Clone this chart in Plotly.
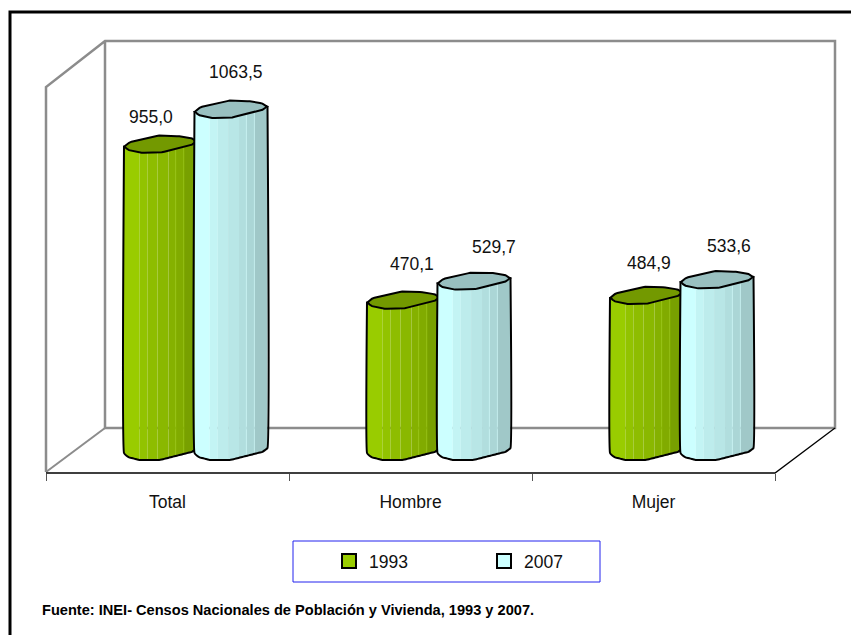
import numpy as np
import plotly.graph_objects as go

# ---- data ----
categories = ["Total", "Hombre", "Mujer"]
values_1993 = [955.0, 470.1, 484.9]
values_2007 = [1063.5, 529.7, 533.6]
series_names = ["1993", "2007"]
source_text = "Fuente: INEI- Censos Nacionales de Población y Vivienda, 1993 y 2007."

# ---- page geometry (pixel values are page pixels; the page body has an 8 px margin) ----
PAGE_W, PAGE_H = 859, 635
OFF = 8
W, H = PAGE_W - OFF, PAGE_H - OFF
FONT = "Liberation Sans, Arial, sans-serif"
X0_PX, CAT_PX = 46.0, 243.0      # first category edge, category width
Y0_PX, UNIT_PX = 460.0, 386.0 / 1200.0  # value 0 level, pixels per unit
AXIS_PX = 473.0


def xd(px):
    return (px - X0_PX) / CAT_PX


def yd(px):
    return (Y0_PX - px) / UNIT_PX


def xp(px):
    return (px - OFF) / W


def yp(px):
    return 1 - (px - OFF) / H


# wavy cylinder outline (fraction of bar width, pixels above the level)
prof_u = np.array([0.0, 0.05, 0.21, 0.49, 0.94, 1.0])
prof_low = np.array([7.0, 3.0, 0.0, 0.0, 8.3, 12.0])
back_u = np.array([0.0, 0.08, 0.30, 0.49, 0.81, 0.95, 1.0])
back_up = np.array([6.0, 10.7, 14.5, 17.4, 16.4, 14.0, 11.0])

band_edges = [0.0, 0.21, 0.32, 0.46, 0.61, 0.71, 0.82, 1.0]
band_factor = [1.0, 0.955, 0.925, 0.9, 0.87, 0.84, 0.785]
BAR_W = 73.0
LEFT_OFF = {0: -43.5, 1: 27.0}   # bar left edge relative to category centre
colors = {0: (153, 204, 0), 1: (204, 255, 255)}
cap_col = {0: "#739900", 1: "#99C0C0"}


def shade(c, f):
    return "rgb(%d,%d,%d)" % tuple(round(v * f) for v in c)


fig = go.Figure()


def add_cylinder(cat_i, ser_i, value):
    left = X0_PX + CAT_PX * (cat_i + 0.5) + LEFT_OFF[ser_i]
    lev = value * UNIT_PX
    for k, f in enumerate(band_factor):
        u = np.linspace(band_edges[k], band_edges[k + 1], 12)
        low = np.interp(u, prof_u, prof_low)
        xs = left + u * BAR_W
        px = np.r_[xs, xs[::-1], xs[0]]
        up = np.r_[low, (low + lev)[::-1], low[0]]
        fig.add_trace(go.Scatter(x=xd(px), y=up / UNIT_PX, mode="lines", fill="toself",
                                 fillcolor=shade(colors[ser_i], f), line=dict(width=0),
                                 hoverinfo="skip", showlegend=False))
    # thin highlights
    for hu in (0.03, 0.71, 0.82):
        low = np.interp(hu, prof_u, prof_low)
        xv = xd(left + hu * BAR_W)
        fig.add_trace(go.Scatter(x=[xv, xv], y=[low / UNIT_PX + 2, (low + lev) / UNIT_PX],
                                 mode="lines", line=dict(width=1, color=shade(colors[ser_i], 1.0)),
                                 opacity=0.55, hoverinfo="skip", showlegend=False))
    # body outline
    u = np.linspace(0, 1, 30)
    low = np.interp(u, prof_u, prof_low)
    xs = left + u * BAR_W
    fig.add_trace(go.Scatter(x=xd(np.r_[xs[0], xs, xs[-1]]),
                             y=np.r_[low[0] + lev, low, low[-1] + lev] / UNIT_PX,
                             mode="lines", line=dict(width=2, color="black", shape="spline", smoothing=0.3),
                             hoverinfo="skip", showlegend=False))
    # cap
    hi = np.interp(u, back_u, back_up)
    capx = np.r_[xs, xs[::-1], xs[0]]
    capy = np.r_[low + lev, (hi + lev)[::-1], low[0] + lev]
    fig.add_trace(go.Scatter(x=xd(capx), y=capy / UNIT_PX, mode="lines", fill="toself",
                             fillcolor=cap_col[ser_i], line=dict(width=2, color="black"),
                             hoverinfo="skip", showlegend=False))


for i in range(len(categories)):
    add_cylinder(i, 0, values_1993[i])
    add_cylinder(i, 1, values_2007[i])

# legend entries
for name, c in zip(series_names, (colors[0], colors[1])):
    fig.add_trace(go.Scatter(x=[None], y=[None], mode="markers", name=name,
                             marker=dict(symbol="square", size=14, color=shade(c, 1.0),
                                         line=dict(color="black", width=2))))


def line_shape(pts, color, width, layer="below"):
    return dict(type="path", layer=layer, xref="x", yref="y",
                path="M " + " L ".join(f"{xd(a):.5f} {yd(b):.3f}" for a, b in pts),
                line=dict(color=color, width=width))


GRAY = "#8c8c8c"
shapes = [
    line_shape([(46, 472), (46, 87), (105, 41), (835, 41), (835, 428), (105, 428), (105, 41)], GRAY, 2.5),
    line_shape([(46, 472), (105, 428)], GRAY, 2),
    line_shape([(46, AXIS_PX), (775, AXIS_PX), (835, 428)], "black", 1.3, "above"),
    # outer frame of the picture
    dict(type="path", layer="above", xref="paper", yref="paper",
         path=f"M {xp(10)} 0 L {xp(10)} {yp(12)} L 1 {yp(12)}", line=dict(color="black", width=3)),
    # legend box
    dict(type="rect", layer="below", xref="paper", yref="paper",
         x0=xp(293), x1=xp(600), y0=yp(582), y1=yp(541),
         line=dict(color="#2222ee", width=1), fillcolor="white"),
]

# data labels
label_dx = {(0, 0): -10, (0, 1): 5, (1, 0): 8, (1, 1): 20, (2, 0): 2, (2, 1): 12}
label_up = {(0, 0): 36, (0, 1): 46, (1, 0): 45, (1, 1): 43, (2, 0): 41, (2, 1): 42}
annotations = []
for s, vals in enumerate((values_1993, values_2007)):
    for i, v in enumerate(vals):
        annotations.append(dict(
            x=i + 0.5 + (LEFT_OFF[s] + BAR_W / 2 + label_dx[(i, s)]) / CAT_PX,
            y=v, xref="x", yref="y", yshift=label_up[(i, s)], showarrow=False,
            text=f"{v:.1f}".replace(".", ","), font=dict(family=FONT, size=17.5, color="#111111"),
        ))
annotations.append(dict(x=xp(40), y=yp(610), xref="paper", yref="paper", xanchor="left",
                        yanchor="middle", showarrow=False, text=f"<b>{source_text}</b>",
                        font=dict(family=FONT, size=14.6, color="black")))

fig.update_layout(
    width=W, height=H, autosize=False, margin=dict(l=0, r=0, t=0, b=0),
    paper_bgcolor="white", plot_bgcolor="white", showlegend=True,
    shapes=shapes, annotations=annotations,
    legend=dict(orientation="h", x=xp(329), y=yp(561), xanchor="left", yanchor="middle",
                bgcolor="rgba(0,0,0,0)", borderwidth=0, entrywidth=110, entrywidthmode="pixels",
                font=dict(family=FONT, size=17.5, color="#111111")),
    xaxis=dict(domain=[0, 1], range=[xd(OFF), xd(PAGE_W)], anchor="free", position=yp(AXIS_PX),
               showgrid=False, zeroline=False, showline=False,
               tickmode="array", tickvals=[0.5, 1.5, 2.5], ticktext=categories, ticks="",
               ticklabelstandoff=16, tickfont=dict(family=FONT, size=17.5, color="#111111"),
               minor=dict(tickmode="array", tickvals=[0, 1, 2, 3], ticks="outside", ticklen=7,
                          tickwidth=1, tickcolor="#555555", showgrid=False)),
    yaxis=dict(domain=[0, 1], range=[yd(PAGE_H), yd(OFF)], visible=False),
)
fig.write_html("out.html")
